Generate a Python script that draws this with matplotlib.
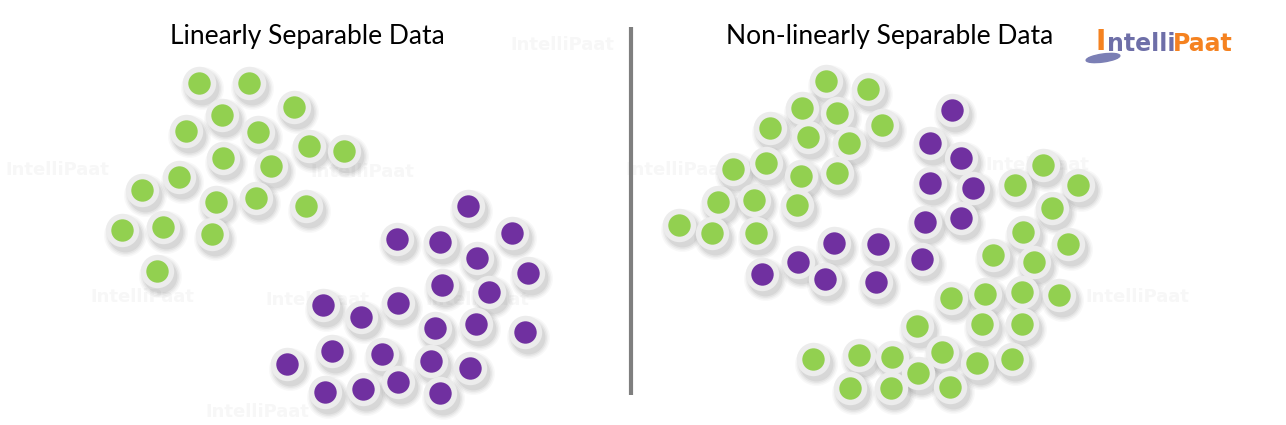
import numpy as np
import matplotlib
matplotlib.use("Agg")
import matplotlib.pyplot as plt
from matplotlib.patches import Ellipse

W, H = 1286, 425

# left panel: linearly separable
left_green_x = [199, 249, 294, 222, 186, 258, 309, 344, 223, 271, 179, 142, 216, 256, 306, 122, 163, 212, 157]
left_green_y = [83, 83, 107, 115, 131, 132, 146, 151, 158, 166, 177, 190, 202, 198, 206, 230, 227, 234, 271]
left_purple_x = [468, 397, 440, 512, 477, 528, 442, 489, 323, 361, 398, 435, 476, 525,
                 332, 382, 431, 470, 287, 325, 363, 398, 440]
left_purple_y = [206, 239, 242, 233, 258, 273, 285, 292, 305, 317, 303, 328, 324, 332,
                 351, 354, 361, 368, 364, 392, 389, 382, 393]

# right panel: non-linearly separable
right_green_x = [826, 868, 802, 837, 882, 770, 808, 849, 733, 766, 801, 837, 718, 754, 797,
                 679, 712, 756,
                 1043, 1015, 1078, 1052, 1023, 1068, 993, 1034, 951, 985, 1022, 1059,
                 917, 982, 1022, 813, 859, 892, 942, 977, 1012, 918, 850, 891, 950]
right_green_y = [81, 89, 108, 113, 125, 128, 137, 143, 169, 163, 176, 173, 202, 200, 205,
                 225, 233, 233,
                 165, 185, 185, 208, 232, 244, 255, 262, 298, 294, 292, 295,
                 326, 324, 324, 359, 355, 357, 352, 363, 359, 373, 388, 388, 387]
right_purple_x = [952, 930, 961, 930, 973, 925, 961, 834, 878, 922, 798, 762, 825, 876]
right_purple_y = [110, 143, 158, 183, 188, 222, 218, 243, 244, 259, 262, 274, 279, 282]

titles = ["Linearly Separable Data", "Non-linearly Separable Data"]
title_x = [307, 890]

GREEN = "#92d050"
PURPLE = "#7030a0"
RING = "#ececec"

fig = plt.figure(figsize=(W / 100, H / 100), dpi=100)
ax = fig.add_axes([0, 0, 1, 1])
ax.set_xlim(0, W)
ax.set_ylim(H, 0)
ax.axis("off")

# faint watermarks
wm = [(510, 45), (310, 172), (5, 170), (90, 297), (425, 300), (625, 170),
      (985, 165), (1085, 297), (265, 300), (205, 412)]
for wx, wy in wm:
    ax.text(wx, wy, "IntelliPaat", fontsize=13, fontweight="bold", color="#f7f7f7",
            va="center", ha="left", family="DejaVu Sans", zorder=0)


def dots(xs, ys, color):
    xs = np.array(xs, float)
    ys = np.array(ys, float)
    # soft drop shadow
    for s, a in [(950, 0.04), (820, 0.05), (700, 0.07), (590, 0.09)]:
        ax.scatter(xs + 3, ys + 5, s=s, color="#555555", alpha=a, lw=0, zorder=1)
    ax.scatter(xs, ys, s=580, color=RING, lw=0, zorder=2)
    ax.scatter(xs, ys, s=260, color=color, lw=0, zorder=3)


dots(left_green_x, left_green_y, GREEN)
dots(left_purple_x, left_purple_y, PURPLE)
dots(right_green_x, right_green_y, GREEN)
dots(right_purple_x, right_purple_y, PURPLE)

# divider
ax.plot([631, 631], [27, 395], color="#7f7f7f", lw=3, solid_capstyle="butt", zorder=4)

for t, tx in zip(titles, title_x):
    ax.text(tx, 36, t, fontsize=19, family="Lato", ha="center", va="center", color="#000000")

# logo
ax.add_patch(Ellipse((1103, 58), 34, 8, angle=-8, color="#7b7fb5", zorder=5))
ax.text(1101, 42, "I", fontsize=20, fontweight="bold", color="#f58220", family="DejaVu Sans",
        ha="center", va="center", zorder=6)
ax.text(1107, 44, "ntelli", fontsize=17, fontweight="bold", color="#6e6fa8", family="DejaVu Sans",
        ha="left", va="center", zorder=6)
ax.text(1173, 44, "Paat", fontsize=17, fontweight="bold", color="#f58220", family="DejaVu Sans",
        ha="left", va="center", zorder=6)

fig.savefig("out.png", dpi=100)
